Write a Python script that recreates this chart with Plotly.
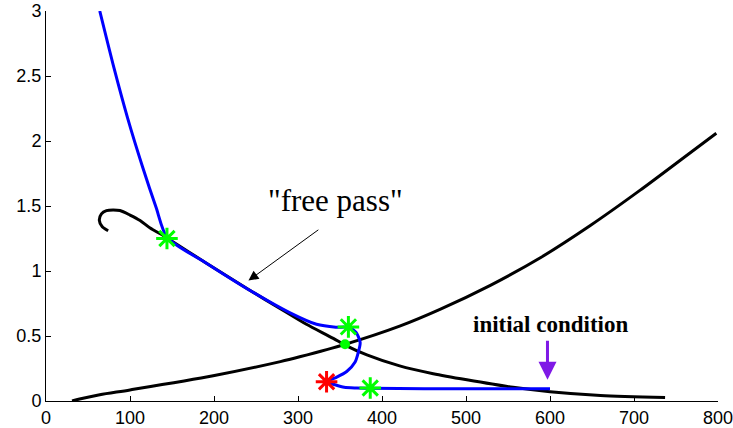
import plotly.graph_objects as go

# Rising nullcline (black)
rise_x = [31, 40, 64, 100, 199, 279, 302, 356, 421, 469, 529, 588, 648, 707, 767, 798]
rise_y = [0.0, 0.015, 0.048, 0.085, 0.194, 0.303, 0.34, 0.436, 0.576, 0.705, 0.89, 1.10, 1.35, 1.62, 1.91, 2.06]

# Falling curve with hook (black)
fall_x = [74, 67, 63.5, 66, 72, 80, 88, 100, 112, 124, 136, 145, 191, 243, 279, 310, 342, 356, 382, 421, 461, 501, 556, 600, 660, 737]
fall_y = [1.31, 1.34, 1.39, 1.44, 1.465, 1.47, 1.465, 1.43, 1.388, 1.33, 1.286, 1.25, 1.06, 0.85, 0.71, 0.59, 0.482, 0.43, 0.355, 0.27, 0.21, 0.163, 0.105, 0.072, 0.043, 0.027]

# Trajectory (blue)
traj_x = [64, 81, 97, 115, 131, 144, 191, 243, 290, 322, 345, 360, 369, 374, 372, 368, 358, 345, 334, 344, 355, 370, 386, 450, 520, 600]
traj_y = [3.0, 2.56, 2.18, 1.80, 1.49, 1.26, 1.06, 0.85, 0.68, 0.59, 0.568, 0.566, 0.53, 0.45, 0.38, 0.30, 0.227, 0.18, 0.148, 0.125, 0.105, 0.10, 0.098, 0.095, 0.094, 0.094]

# Markers
green_star_x = [144, 360, 386]
green_star_y = [1.25, 0.57, 0.10]
red_star_x = [334]
red_star_y = [0.148]
dot_x = [356]
dot_y = [0.436]

x_ticks = [0, 100, 200, 300, 400, 500, 600, 700, 800]
y_ticks = [0, 0.5, 1, 1.5, 2, 2.5, 3]

fig = go.Figure()
fig.add_trace(go.Scatter(x=rise_x, y=rise_y, mode="lines", line=dict(color="black", width=3, shape="spline", smoothing=0.8)))
fig.add_trace(go.Scatter(x=fall_x, y=fall_y, mode="lines", line=dict(color="black", width=3, shape="spline", smoothing=0.8)))
fig.add_trace(go.Scatter(x=traj_x, y=traj_y, mode="lines", line=dict(color="#0000FF", width=3, shape="spline", smoothing=0.7)))
fig.add_trace(go.Scatter(x=dot_x, y=dot_y, mode="markers", marker=dict(symbol="circle", size=10, color="#00FF00")))
fig.add_trace(go.Scatter(x=green_star_x, y=green_star_y, mode="markers",
                         marker=dict(symbol="asterisk-open", size=18, color="#00FF00", line=dict(color="#00FF00", width=3))))
fig.add_trace(go.Scatter(x=red_star_x, y=red_star_y, mode="markers",
                         marker=dict(symbol="asterisk-open", size=18, color="#FF0000", line=dict(color="#FF0000", width=3))))

fig.add_annotation(x=345, y=1.54, xref="x", yref="y", text='"free pass"', showarrow=False,
                   font=dict(family="Liberation Serif", size=31, color="black"))
fig.add_annotation(x=241, y=0.926, ax=326, ay=1.325, xref="x", yref="y", axref="x", ayref="y",
                   text="", showarrow=True, arrowhead=2, arrowsize=2, arrowwidth=1, arrowcolor="black")
fig.add_annotation(x=600, y=0.59, xref="x", yref="y", text="<b>initial condition</b>", showarrow=False,
                   font=dict(family="Liberation Serif", size=23, color="black"))
fig.add_annotation(x=597, y=0.163, ax=597, ay=0.475, xref="x", yref="y", axref="x", ayref="y",
                   text="", showarrow=True, arrowhead=2, arrowsize=1.2, arrowwidth=3, arrowcolor="rgb(127,25,230)")

fig.update_layout(
    width=733, height=428,
    margin=dict(l=46, r=15, t=11, b=27, autoexpand=False),
    paper_bgcolor="white", plot_bgcolor="white",
    showlegend=False,
    font=dict(family="Liberation Sans", size=18, color="black"),
)
fig.update_xaxes(range=[0, 800], tickvals=x_ticks, ticks="inside", ticklen=5, tickcolor="black",
                 showline=True, linecolor="black", linewidth=1, showgrid=False, zeroline=False,
                 automargin=False, ticklabeloverflow="allow")
fig.update_yaxes(range=[0, 3], tickvals=y_ticks, ticks="inside", ticklen=5, tickcolor="black",
                 showline=True, linecolor="black", linewidth=1, showgrid=False, zeroline=False,
                 automargin=False, ticklabeloverflow="allow")

fig.write_html("out.html", config={"displayModeBar": False},
               post_script="document.body.style.margin='0';document.body.style.overflow='hidden';")
